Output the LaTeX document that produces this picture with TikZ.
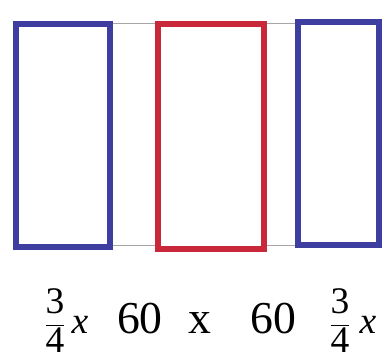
\documentclass[tikz,border=0pt]{standalone}
\usepackage{fontspec}
\setmainfont{Liberation Serif}
\definecolor{barblue}{RGB}{62,62,160}
\definecolor{barred}{RGB}{200,40,58}
\begin{document}
\begin{tikzpicture}[x=0.03cm, y=-0.03cm,
  side/.style={draw=barblue, line width=5pt, rectangle, inner sep=0pt},
  mid/.style={draw=barred, line width=5pt, rectangle, inner sep=0pt},
  guide/.style={draw=gray!70, line width=0.6pt},
  big/.style={inner sep=0pt, anchor=base, font=\fontsize{39pt}{42pt}\selectfont},
  small/.style={inner sep=0pt, anchor=base, font=\fontsize{32pt}{34pt}\selectfont}]
\useasboundingbox (0,0) rectangle (383,358);
\node[side, minimum width=2.82cm, minimum height=6.69cm] (l) at (63,135.5) {};
\node[mid, minimum width=3.18cm, minimum height=6.75cm] (m) at (211,136.5) {};
\node[side, minimum width=2.43cm, minimum height=6.69cm] (r) at (338.5,133.5) {};
\coordinate (top) at (0,23);
\coordinate (bot) at (0,245);
\draw[guide] (l.east |- top) -- (m.west |- top);
\draw[guide] (m.east |- top) -- (r.west |- top);
\draw[guide] (l.east |- bot) -- (m.west |- bot);
\draw[guide] (m.east |- bot) -- (r.west |- bot);
\node[small] (f1) at (55,333) {$\displaystyle\frac{\mathrm{3}}{\mathrm{4}}$};
\node[small] (x1) at (80,333) {$\mathit{x}$};
\node[big] (n1) at (140,333) {60};
\node[big] (t) at (200,333) {x};
\node[big] (n2) at (273,333) {60};
\node[small] (f2) at (340,333) {$\displaystyle\frac{\mathrm{3}}{\mathrm{4}}$};
\node[small] (x2) at (368,333) {$\mathit{x}$};
\end{tikzpicture}
\end{document}
